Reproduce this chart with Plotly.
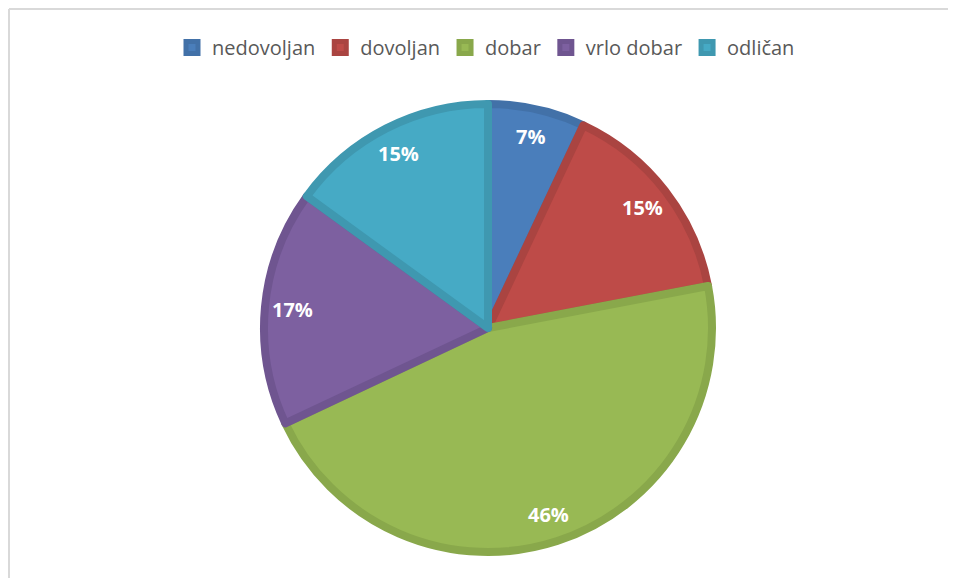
import math
import plotly.graph_objects as go

# Ocjene (grades) and their share
labels = ["nedovoljan", "dovoljan", "dobar", "vrlo dobar", "odličan"]
values = [7, 15, 46, 17, 15]

fill_colors = ["#4A7EBB", "#BE4B48", "#98B954", "#7D60A0", "#46AAC5"]
edge_colors = ["#4271A8", "#AA4441", "#89A84B", "#6F5590", "#3F98B0"]

W, H = 956, 578
cx, cy, r = 480, 320, 224   # page offset of 8px is added by the browser

fig = go.Figure(go.Pie(
    labels=labels,
    values=values,
    sort=False,
    direction="clockwise",
    rotation=0,
    textinfo="none",
    marker=dict(colors=fill_colors, line=dict(color=edge_colors, width=8)),
    domain=dict(x=[(cx - r) / W, (cx + r) / W],
                y=[(H - cy - r) / H, (H - cy + r) / H]),
    hoverinfo="label+percent",
))

# percentage labels, placed towards the outer rim like Excel does
total = sum(values)
rl = 0.86 * (r + 4)
start = 0
for v in values:
    mid = (start + v / 2) / total * 2 * math.pi
    start += v
    fig.add_annotation(
        xref="paper", yref="paper",
        x=(cx + rl * math.sin(mid)) / W,
        y=(H - cy + rl * math.cos(mid)) / H,
        xanchor="center", yanchor="middle",
        text=f"{round(v / total * 100)}%",
        showarrow=False,
        font=dict(family="Open Sans", size=20, color="white", weight="bold"),
    )

# light grey frame (top and left edges visible)
frame = dict(color="#D9D9D9", width=2)
fig.add_shape(type="line", xref="paper", yref="paper",
              x0=1 / W, x1=1, y0=1 - 1 / H, y1=1 - 1 / H, line=frame)
fig.add_shape(type="line", xref="paper", yref="paper",
              x0=1 / W, x1=1 / W, y0=0, y1=1 - 1 / H, line=frame)

fig.update_layout(
    width=W, height=H,
    margin=dict(l=0, r=0, t=0, b=0),
    paper_bgcolor="white",
    font=dict(family="Open Sans", color="#595959"),
    showlegend=True,
    legend=dict(orientation="h", x=0.5, xanchor="center",
                y=1 - 20 / H, yanchor="top",
                font=dict(size=20, color="#595959"),
                itemwidth=30),
)

fig.write_html("out.html")
